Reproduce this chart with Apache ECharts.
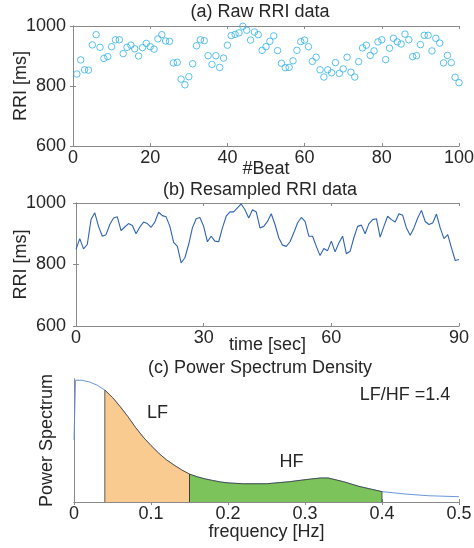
<!DOCTYPE html>
<html>
<head>
<meta charset="utf-8">
<script src="https://cdn.jsdelivr.net/npm/echarts@6/dist/echarts.min.js"></script>
<style>
  html, body { margin: 0; padding: 0; background: #fff; }
  #chart { width: 474px; height: 548px; }
</style>
</head>
<body>
<div id="chart"></div>
<script>
// (a) raw RR intervals, one per beat (ms)
const rawRri = [
  840, 887, 854, 853, 937, 971, 929, 892, 898, 931,
  954, 954, 908, 929, 936, 924, 900, 928, 942, 931,
  923, 957, 971, 950, 949, 877, 879, 823, 804, 831,
  874, 934, 954, 951, 901, 872, 901, 862, 893, 936,
  968, 972, 977, 999, 986, 953, 980, 971, 919, 931,
  949, 967, 918, 876, 861, 862, 884, 919, 948, 953,
  931, 882, 896, 854, 830, 854, 844, 878, 842, 857,
  896, 846, 830, 881, 927, 936, 902, 917, 947, 954,
  888, 926, 959, 947, 940, 973, 954, 898, 901, 938,
  969, 969, 917, 959, 943, 877, 902, 878, 829, 811
];

// (b) resampled RRI over 0..90 s (ms)
const resampledRri = [
  849, 884, 851, 865, 946, 968, 924, 892, 897, 930,
  951, 955, 910, 922, 933, 927, 900, 922, 938, 933,
  921, 938, 970, 959, 955, 924, 872, 859, 805, 822,
  865, 919, 949, 953, 924, 874, 892, 876, 874, 919,
  957, 971, 971, 984, 997, 978, 951, 978, 971, 919,
  924, 940, 965, 930, 887, 863, 859, 874, 903, 935,
  953, 940, 892, 892, 859, 829, 852, 845, 876, 841,
  870, 892, 835, 843, 887, 924, 928, 900, 932, 946,
  949, 889, 924, 957, 946, 938, 965, 960, 919, 895,
  919, 951, 976, 940, 930, 935, 964, 919, 884, 897,
  854, 813, 816
];
const durationSec = 90;

// (c) power spectrum density (normalised)
const freqHz = [
  0, 0.002, 0.01, 0.02, 0.03, 0.04, 0.05, 0.06, 0.07, 0.08,
  0.09, 0.10, 0.11, 0.12, 0.13, 0.14, 0.15, 0.16, 0.17, 0.18,
  0.19, 0.20, 0.22, 0.25, 0.28, 0.30, 0.32, 0.33, 0.35, 0.37,
  0.40, 0.43, 0.46, 0.50
];
const power = [
  0.505, 0.99, 0.99, 0.976, 0.95, 0.91, 0.85, 0.775, 0.694, 0.605,
  0.527, 0.459, 0.397, 0.343, 0.30, 0.26, 0.227, 0.205, 0.188, 0.175,
  0.163, 0.155, 0.148, 0.148, 0.165, 0.181, 0.195, 0.195, 0.165, 0.127,
  0.084, 0.065, 0.051, 0.043
];
const lfBand = [0.04, 0.15];
const hfBand = [0.15, 0.40];
const lfHfRatio = '1.4';

const FONT = '"Liberation Sans", Arial, Helvetica, sans-serif';
const TEXT = '#262626';
const BOX = '#8a8a8a';

const chart = echarts.init(document.getElementById('chart'));

const beats = rawRri.map((_, i) => i + 1);
const timeSec = resampledRri.map((_, i) => i * durationSec / (resampledRri.length - 1));
const psd = freqHz.map((f, i) => [f, power[i]]);

// band polygon: drop to 0 at both edges so the outline shows the borders
const band = (lo, hi) => {
  const pts = psd.filter(p => p[0] >= lo - 1e-9 && p[0] <= hi + 1e-9);
  return [[lo, 0], ...pts, [hi, 0]];
};

const boxLine = { show: true, lineStyle: { color: BOX, width: 1 } };
const label = (margin) => ({
  color: TEXT, fontSize: 18, fontFamily: FONT, margin,
  formatter: v => String(v)
});

const xBottom = (grid, min, max, interval, name, nameGap) => ({
  type: 'value', gridIndex: grid, min, max, interval, position: 'bottom',
  axisLine: boxLine, splitLine: { show: false },
  axisTick: { show: true, inside: true, length: 3, lineStyle: { color: BOX } },
  axisLabel: label(3),
  name, nameLocation: 'middle', nameGap, nameMoveOverlap: false,
  nameTextStyle: { color: TEXT, fontSize: 18, fontFamily: FONT }
});
const xTop = (grid, min, max, interval) => ({
  type: 'value', gridIndex: grid, min, max, interval, position: 'top',
  axisLine: boxLine, splitLine: { show: false },
  axisTick: { show: true, inside: true, length: 3, lineStyle: { color: BOX } },
  axisLabel: { show: false }
});
const yLeft = (grid, min, max, interval, name, nameGap, margin, ticks) => ({
  type: 'value', gridIndex: grid, min, max, interval, position: 'left',
  axisLine: boxLine, splitLine: { show: false },
  axisTick: { show: ticks, inside: true, length: 3, lineStyle: { color: BOX } },
  axisLabel: ticks ? label(margin) : { show: false },
  name, nameLocation: 'middle', nameGap, nameRotate: 90, nameMoveOverlap: false,
  nameTextStyle: { color: TEXT, fontSize: 18, fontFamily: FONT }
});
const yRight = (grid, min, max, interval, ticks) => ({
  type: 'value', gridIndex: grid, min, max, interval, position: 'right',
  axisLine: boxLine, splitLine: { show: false },
  axisTick: { show: ticks, inside: true, length: 3, lineStyle: { color: BOX } },
  axisLabel: { show: false }
});

const txt = (text, x, y) => ({
  type: 'text', x, y, silent: true,
  style: { text, fill: TEXT, font: '18px ' + FONT, align: 'center', verticalAlign: 'middle' }
});

chart.setOption({
  animation: false,
  textStyle: { fontFamily: FONT },
  grid: [
    { left: 73, right: 15, top: 26, height: 120, outerBoundsMode: 'none', containLabel: false },
    { left: 76, right: 15, top: 203, height: 123, outerBoundsMode: 'none', containLabel: false },
    { left: 74, right: 15, top: 379, height: 123, outerBoundsMode: 'none', containLabel: false }
  ],
  xAxis: [
    xBottom(0, 0, 100, 20, '#Beat', 14),
    xTop(0, 0, 100, 20),
    xBottom(1, 0, 90, 30, 'time [sec]', 10),
    xTop(1, 0, 90, 30),
    xBottom(2, 0, 0.5, 0.1, 'frequency [Hz]', 21),
    xTop(2, 0, 0.5, 0.1)
  ],
  yAxis: [
    yLeft(0, 600, 1000, 200, 'RRI [ms]', 43, 7, true),
    yRight(0, 600, 1000, 200, true),
    yLeft(1, 600, 1000, 200, 'RRI [ms]', 46, 10, true),
    yRight(1, 600, 1000, 200, true),
    yLeft(2, 0, 1, 0.5, 'Power Spectrum', 18, 0, false),
    yRight(2, 0, 1, 0.5, false)
  ],
  graphic: [
    txt('(a) Raw RRI data', 260, 12.5),
    txt('(b) Resampled RRI data', 260, 190.5),
    txt('(c) Power Spectrum Density', 260, 368.5),
    txt('LF', 157.5, 413.5),
    txt('HF', 291.5, 462),
    txt('LF/HF =' + lfHfRatio, 405, 395.5)
  ],
  series: [
    {
      type: 'scatter', xAxisIndex: 0, yAxisIndex: 0,
      data: beats.map((b, i) => [b, rawRri[i]]),
      symbol: 'circle', symbolSize: 6.5,
      itemStyle: { color: 'rgba(0,0,0,0)', borderColor: '#2fb1ea', borderWidth: 1 }
    },
    {
      type: 'line', xAxisIndex: 2, yAxisIndex: 2,
      data: timeSec.map((t, i) => [t, resampledRri[i]]),
      showSymbol: false, lineStyle: { color: '#2f63b6', width: 1.1 }
    },
    {
      type: 'line', xAxisIndex: 4, yAxisIndex: 4, data: psd, z: 1,
      showSymbol: false, lineStyle: { color: '#5a8ad6', width: 0.9 }
    },
    {
      type: 'line', xAxisIndex: 4, yAxisIndex: 4, data: band(lfBand[0], lfBand[1]), z: 2,
      showSymbol: false, lineStyle: { color: '#3a3a3a', width: 0.8 },
      areaStyle: { color: '#f9cb90', opacity: 1 }
    },
    {
      type: 'line', xAxisIndex: 4, yAxisIndex: 4, data: band(hfBand[0], hfBand[1]), z: 2,
      showSymbol: false, lineStyle: { color: '#3a3a3a', width: 0.8 },
      areaStyle: { color: '#7cc35c', opacity: 1 }
    }
  ]
});
</script>
</body>
</html>
